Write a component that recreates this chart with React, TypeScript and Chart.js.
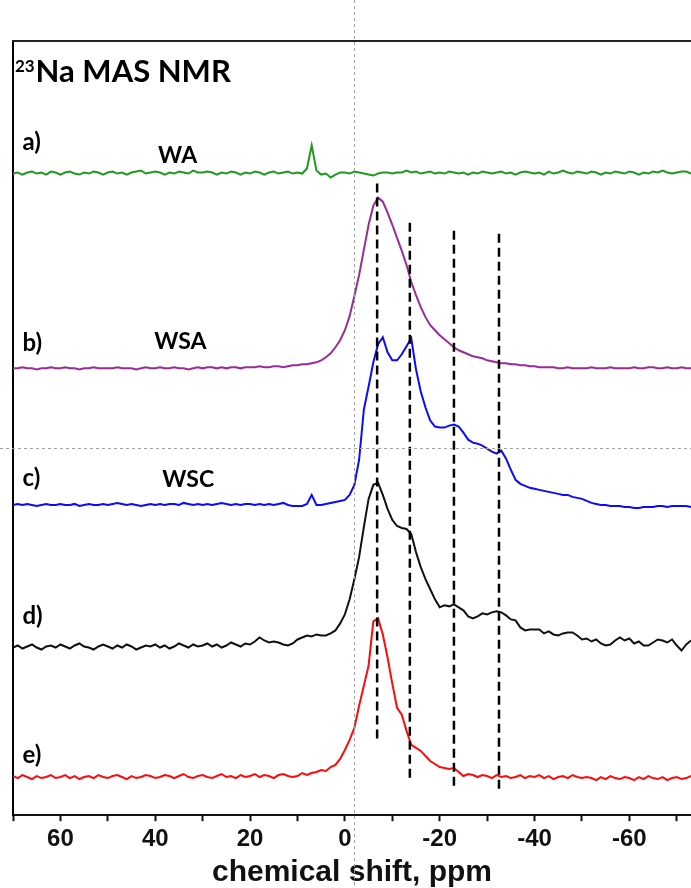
import React, { useEffect, useRef } from 'react';
import { Chart, registerables } from 'chart.js';

Chart.register(...registerables);

// Chemical shift grid (ppm), shared by all five spectra
const shiftPpm = [
  70, 69, 68, 67, 66, 65, 64, 63, 62, 61,
  60, 59, 58, 57, 56, 55, 54, 53, 52, 51,
  50, 49, 48, 47, 46, 45, 44, 43, 42, 41,
  40, 39, 38, 37, 36, 35, 34, 33, 32, 31,
  30, 29, 28, 27, 26, 25, 24, 23, 22, 21,
  20, 19, 18, 17, 16, 15, 14, 13, 12, 11,
  10, 9, 8, 7, 6, 5, 4, 3, 2, 1,
  0, -1, -2, -3, -4, -5, -6, -7, -8, -9,
  -10, -11, -12, -13, -14, -15, -16, -17, -18, -19,
  -20, -21, -22, -23, -24, -25, -26, -27, -28, -29,
  -30, -31, -32, -33, -34, -35, -36, -37, -38, -39,
  -40, -41, -42, -43, -44, -45, -46, -47, -48, -49,
  -50, -51, -52, -53, -54, -55, -56, -57, -58, -59,
  -60, -61, -62, -63, -64, -65, -66, -67, -68, -69,
  -70, -71, -72, -73,
];

// a) WA
const waSignal = [
  0, 1, -1, 1, 2, 0, 1, -1, 2, 1,
  -1, 1, 2, 0, -1, 1, 0, 2, 1, -1,
  1, 2, 0, 1, -1, 1, 2, 3, 0, 1,
  2, 1, -1, 1, 0, 2, 1, 0, 3, 1,
  1, 2, 1, -1, 1, 0, 2, 1, -1, 1,
  0, 2, 1, -1, 1, 2, 0, 1, 2, 0,
  1, 0, 5, 28, 3, -1, 0, -4, -1, 1,
  1, 0, 2, 1, 0, -1, -2, 0, 1, 1,
  0, 1, 1, 3, 1, 2, 0, 1, 2, 0,
  1, 0, 2, 1, 0, 1, -1, 1, 0, 2,
  1, 0, 1, 2, 0, 1, -1, 1, 2, 1,
  0, 1, -1, 2, 0, 1, 3, 1, 0, 2,
  1, 0, 2, 1, -1, 1, 0, 2, 1, 0,
  2, 1, -1, 1, 0, 2, 1, 3, 1, 0,
  1, 2, 2, 0,
];

// b) WSA
const wsaSignal = [
  0, 0, 1, 0, 0, -1, 0, 0, 1, 0,
  0, 1, 0, 0, -1, 0, 0, 1, 0, 0,
  0, 0, 1, 0, 0, 0, -1, 0, 1, 0,
  0, 1, 0, 0, 1, 0, 0, -1, 0, 1,
  0, 1, 1, 0, 1, 0, 1, 1, 0, 1,
  1, 1, 2, 1, 1, 2, 2, 1, 2, 3,
  3, 4, 4, 5, 6, 8, 11, 15, 21, 28,
  38, 52, 72, 93, 118, 143, 162, 170, 166, 155,
  143, 130, 117, 103, 86, 73, 61, 51, 43, 38,
  33, 29, 25, 21, 18, 16, 14, 12, 11, 10,
  8, 7, 6, 5, 5, 4, 4, 3, 3, 2,
  2, 1, 1, 1, 1, 0, 0, 1, 0, 0,
  0, 0, 1, 0, 0, 0, 1, 0, 0, 0,
  0, 1, 0, 0, 1, 1, 0, 0, 1, 0,
  0, 1, 0, 0,
];

// c) WSC
const wscSignal = [
  0, 1, 0, 1, 0, -1, 0, 1, 0, 0,
  1, 0, 0, 1, -1, 0, 1, 0, 0, 1,
  0, 1, 2, 1, 0, 1, 0, -1, 0, 1,
  0, 1, 0, 1, 1, 0, 2, 1, 0, 1,
  0, 1, 0, 1, 2, 1, 0, 1, 0, 1,
  1, 0, 1, 0, 1, 0, 1, 2, 0, -1,
  -1, -1, 1, 10, 0, 0, 1, 2, 3, 4,
  5, 10, 20, 45, 95, 118, 142, 160, 167, 152,
  144, 144, 150, 158, 166, 135, 113, 97, 84, 78,
  77, 77, 79, 80, 78, 72, 65, 62, 61, 59,
  56, 53, 51, 54, 46, 35, 25, 21, 19, 17,
  16, 15, 14, 13, 12, 11, 10, 10, 8, 7,
  6, 4, 2, 1, 0, 0, -1, -1, -1, -2,
  -2, -3, -3, -2, -2, -2, -1, -1, -2, -1,
  -1, -1, -1, -2,
];

// d)
const sampleDSignal = [
  0, 2, -1, 1, 3, 0, -2, 1, 2, 0,
  3, 1, -1, 2, 4, 1, 0, -2, 1, 3,
  1, -1, 2, 0, 3, 1, -2, 0, 2, 1,
  3, 0, 2, -1, 1, 4, 2, 0, 3, 1,
  2, 4, 1, 3, 0, 2, 5, 3, 1, 4,
  3, 6, 10, 7, 5, 6, 5, 3, 2, 4,
  8, 10, 12, 11, 13, 12, 12, 14, 17, 24,
  33, 48, 68, 90, 120, 148, 162, 164, 152, 138,
  127, 121, 119, 118, 113, 95, 80, 68, 58, 48,
  40, 42, 41, 43, 40, 37, 31, 29, 31, 34,
  33, 35, 36, 35, 32, 28, 27, 20, 17, 18,
  18, 18, 14, 16, 13, 12, 14, 15, 15, 12,
  8, 9, 6, 8, 4, 2, 3, 7, 10, 7,
  9, 4, 6, 2, 2, 5, 8, 7, 5, 8,
  2, -3, 3, 7,
];

// e)
const sampleESignal = [
  2, 0, 3, 1, -1, 2, 0, 1, 3, 0,
  1, 3, 0, 2, -1, 1, 2, 0, 3, 1,
  0, 2, 3, 1, -1, 2, 0, 1, 3, 2,
  0, 1, 3, 2, 0, 2, 4, 1, 0, 2,
  3, 1, 0, 2, 4, 1, 2, 0, 3, 1,
  2, 4, 1, 3, 2, 0, 3, 4, 2, 1,
  2, 5, 3, 5, 6, 8, 7, 11, 13, 19,
  28, 38, 50, 72, 92, 112, 156, 159, 143, 120,
  94, 70, 63, 47, 33, 30, 27, 22, 17, 14,
  11, 10, 9, 10, 6, 2, 4, 3, 1, 3,
  2, 0, 3, 1, 2, 0, 1, 3, 0, 2,
  1, 3, 0, 2, -1, 1, 2, 0, 3, 1,
  0, 1, 0, -2, 1, -1, 2, 0, -1, 1,
  0, -2, 1, -1, 2, 0, -1, 1, -2, 0,
  1, -1, 0, 2,
];

// Vertical stacking offsets of the spectra (a to e)
const traceOffsets = [639, 445, 309, 167, 37];
const traceSignals = [waSignal, wsaSignal, wscSignal, sampleDSignal, sampleESignal];
const traceColors = ['#1f9a1f', '#9b2a9b', '#0a0aff', '#111111', '#ff0a0a'];

// Reference shifts marked with dashed lines, with their vertical extents
const markerShifts = [-6.8, -13.7, -23.0, -32.5];
const markerTops = [629, 590, 582, 579];
const markerBottoms = [75, 37, 27, 25];

// Annotations
const traceLabels = ['a)', 'b)', 'c)', 'd)', 'e)'];
const traceLabelLevels = [662, 462, 328, 190, 52];
const traceLabelShift = 68.0;
const sampleNames = ['WA', 'WSA', 'WSC'];
const sampleNameShifts = [39.4, 40.2, 38.5];
const sampleNameLevels = [650, 464, 327];
const headingShift = 69.6;
const headingLevel = 730;
const cursorShift = -2.0;
const cursorLevel = 366;

const xTickLabels = [60, 40, 20, 0, -20, -40, -60];

const decorPlugin = {
  id: 'decor',
  afterDraw(chart: any) {
    const { ctx, chartArea, scales } = chart;
    const xs = scales.x;
    const ys = scales.y;
    ctx.save();

    // upper frame edge
    ctx.strokeStyle = '#222';
    ctx.lineWidth = 2;
    ctx.beginPath();
    ctx.moveTo(chartArea.left - 1, chartArea.top);
    ctx.lineTo(chart.width, chartArea.top);
    ctx.stroke();

    ctx.fillStyle = '#000';
    ctx.textAlign = 'left';
    ctx.textBaseline = 'alphabetic';

    // heading: 23Na MAS NMR
    const hx = xs.getPixelForValue(headingShift);
    const hy = ys.getPixelForValue(headingLevel);
    ctx.font = 'bold 17px Lato';
    ctx.fillText('23', hx, hy - 10);
    const supW = ctx.measureText('23').width;
    ctx.font = 'bold 31px Lato';
    ctx.fillText('Na MAS NMR', hx + supW + 1, hy);

    // trace labels
    ctx.font = 'bold 24px Lato';
    traceLabels.forEach((t, i) => {
      ctx.fillText(t, xs.getPixelForValue(traceLabelShift), ys.getPixelForValue(traceLabelLevels[i]));
    });
    ctx.font = 'bold 23px Lato';
    sampleNames.forEach((t, i) => {
      ctx.fillText(t, xs.getPixelForValue(sampleNameShifts[i]), ys.getPixelForValue(sampleNameLevels[i]));
    });

    // dotted cursor cross
    ctx.setLineDash([3, 3]);
    ctx.strokeStyle = '#a0a0a0';
    ctx.lineWidth = 1;
    const cx = Math.round(xs.getPixelForValue(cursorShift)) + 0.5;
    const cy = Math.round(ys.getPixelForValue(cursorLevel)) + 0.5;
    ctx.beginPath();
    ctx.moveTo(cx, 0);
    ctx.lineTo(cx, chart.height);
    ctx.moveTo(0, cy);
    ctx.lineTo(chart.width, cy);
    ctx.stroke();

    ctx.restore();
  },
};

export default function App() {
  const canvasRef = useRef<HTMLCanvasElement>(null);

  useEffect(() => {
    const canvas = canvasRef.current;
    if (!canvas) return;

    const spectra = traceSignals.map((signal, k) => ({
      data: shiftPpm.map((ppm, i) => ({ x: ppm, y: traceOffsets[k] + signal[i] })),
      borderColor: traceColors[k],
      borderWidth: 2,
      pointRadius: 0,
      tension: 0,
      order: 1,
    }));

    const markers = markerShifts.map((s, k) => ({
      data: [
        { x: s, y: markerTops[k] },
        { x: s, y: markerBottoms[k] },
      ],
      borderColor: '#000',
      borderWidth: 2.5,
      borderDash: [9, 5],
      pointRadius: 0,
      order: 0,
    }));

    const chart = new Chart(canvas, {
      type: 'line',
      data: { datasets: [...markers, ...spectra] as any },
      options: {
        animation: false,
        responsive: false,
        maintainAspectRatio: false,
        layout: { padding: { left: 13, top: 41, right: 0, bottom: 0 } },
        plugins: {
          legend: { display: false },
          tooltip: { enabled: false },
        },
        scales: {
          x: {
            type: 'linear',
            min: -73,
            max: 70,
            reverse: true,
            grid: {
              display: true,
              drawOnChartArea: false,
              drawTicks: true,
              tickLength: 6,
              tickWidth: 2,
              tickColor: '#111',
            },
            border: { display: true, color: '#111', width: 2 },
            ticks: {
              stepSize: 10,
              includeBounds: false,
              autoSkip: false,
              maxRotation: 0,
              padding: 4,
              color: '#111',
              font: { family: 'Liberation Sans', weight: 'bold', size: 24, lineHeight: 1.2 },
              callback: (v: any) => (xTickLabels.includes(Number(v)) ? String(v) : ''),
            },
            title: {
              display: true,
              text: 'chemical shift, ppm',
              color: '#111',
              font: { family: 'Liberation Sans', weight: 'bold', size: 30, lineHeight: 1 },
              padding: { top: 0, bottom: 0 },
            },
          },
          y: {
            type: 'linear',
            min: 0,
            max: 771,
            grid: { display: false, drawTicks: false },
            border: { display: true, color: '#000', width: 2 },
            ticks: { display: false },
          },
        },
      },
      plugins: [decorPlugin],
    });

    return () => chart.destroy();
  }, []);

  return (
    <div style={{ position: 'absolute', left: 0, top: 0, width: 691, height: 888, background: '#fff' }}>
      <canvas ref={canvasRef} width={691} height={888} />
    </div>
  );
}
